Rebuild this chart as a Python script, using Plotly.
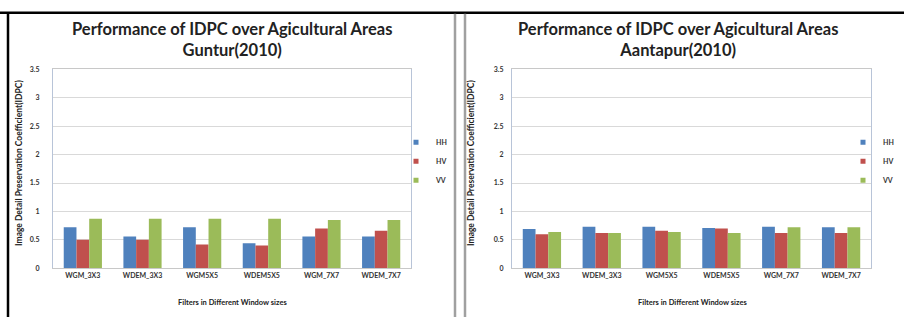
import plotly.graph_objects as go

categories = ["WGM_3X3", "WDEM_3X3", "WGM5X5", "WDEM5X5", "WGM_7X7", "WDEM_7X7"]
series_names = ["HH", "HV", "VV"]
guntur_hh = [0.72, 0.56, 0.72, 0.44, 0.56, 0.56]
guntur_hv = [0.50, 0.50, 0.42, 0.40, 0.70, 0.66]
guntur_vv = [0.87, 0.87, 0.87, 0.87, 0.85, 0.85]
aantapur_hh = [0.69, 0.73, 0.73, 0.71, 0.73, 0.72]
aantapur_hv = [0.60, 0.62, 0.66, 0.70, 0.62, 0.62]
aantapur_vv = [0.64, 0.62, 0.64, 0.62, 0.72, 0.72]
y_ticks = [0, 0.5, 1, 1.5, 2, 2.5, 3, 3.5]
y_tick_labels = ["0", "0.5", "1", "1.5", "2", "2.5", "3", "3.5"]
colors = ["#4F81BD", "#C0504D", "#9BBB59"]

W, H = 904, 320
MR = 28  # right margin reserved so the right legend never pushes the layout
PW = W - MR
def px(x):
    return x / PW
def py(y):
    return 1 - y / H

fig = go.Figure()
left = [guntur_hh, guntur_hv, guntur_vv]
right = [aantapur_hh, aantapur_hv, aantapur_vv]
for i, name in enumerate(series_names):
    fig.add_trace(go.Bar(x=categories, y=left[i], name=name, marker_color=colors[i],
                         marker_line_width=0, xaxis="x", yaxis="y", showlegend=False))
for i, name in enumerate(series_names):
    fig.add_trace(go.Bar(x=categories, y=right[i], name=name, marker_color=colors[i],
                         marker_line_width=0, xaxis="x2", yaxis="y2", showlegend=False))
# legend keys (small squares, like the original)
for lg, xa, ya in [("legend", "x", "y"), ("legend2", "x2", "y2")]:
    for i, name in enumerate(series_names):
        fig.add_trace(go.Scatter(x=[None], y=[None], mode="markers", name=name,
                                 marker=dict(symbol="square", size=5, color=colors[i]),
                                 xaxis=xa, yaxis=ya, legend=lg, showlegend=True,
                                 hoverinfo="skip"))

tickfont = dict(family="Lato", size=7, color="#333", weight="bold")
ax_common = dict(showgrid=False, showline=True, linecolor="#c8c8c8", linewidth=1,
                 mirror=True, ticks="", tickfont=tickfont, fixedrange=True)
yax_common = dict(range=[0, 3.5], tickvals=y_ticks, ticktext=y_tick_labels,
                  showgrid=True, gridcolor="#d9d9d9", gridwidth=1, showline=True,
                  linecolor="#b8c4d8", mirror=True, ticks="", tickfont=tickfont,
                  zeroline=False, fixedrange=True)

ybot, ytop = py(270), py(66)
legfont = dict(family="Lato", size=7, color="#333", weight="bold")
fig.update_layout(
    width=W, height=H,
    margin=dict(l=0, r=MR, t=0, b=0),
    paper_bgcolor="white", plot_bgcolor="white",
    barmode="group", bargap=0.36, bargroupgap=0,
    xaxis=dict(domain=[px(53), px(411)], anchor="y", **ax_common),
    yaxis=dict(domain=[ybot, ytop], anchor="x", ticklabelstandoff=11, **yax_common),
    xaxis2=dict(domain=[px(512), px(871)], anchor="y2", **ax_common),
    yaxis2=dict(domain=[ybot, ytop], anchor="x2", ticklabelstandoff=6, **yax_common),
    legend=dict(x=px(396), y=py(126), xanchor="left", yanchor="top", font=legfont,
                bgcolor="rgba(0,0,0,0)", itemwidth=30, tracegroupgap=0),
    legend2=dict(x=px(843), y=py(126), xanchor="left", yanchor="top", font=legfont,
                 bgcolor="rgba(0,0,0,0)", itemwidth=30, tracegroupgap=0),
    showlegend=True,
)

title_font = dict(family="Lato", size=16.5, color="#222", weight="bold")
small_bold = dict(family="Lato", size=7.5, color="#222", weight="bold")
for txt, cx in [("Performance of IDPC over Agicultural Areas<br>Guntur(2010)", 232),
                ("Performance of IDPC over Agicultural Areas<br>Aantapur(2010)", 678)]:
    fig.add_annotation(text=txt, x=px(cx), y=py(35), xref="paper", yref="paper",
                       showarrow=False, font=title_font, xanchor="center", yanchor="middle",
                       align="center")
for cx in [232, 692]:
    fig.add_annotation(text="Filters in Different Window sizes", x=px(cx), y=py(305),
                       xref="paper", yref="paper", showarrow=False, font=small_bold,
                       xanchor="center", yanchor="middle")
for cx in [19, 471]:
    fig.add_annotation(text="Image Detail Preservation Coefficient(IDPC)", x=px(cx), y=py(162),
                       xref="paper", yref="paper", showarrow=False,
                       font=dict(family="Lato", size=8.5, color="#222", weight="bold"),
                       textangle=-90, xanchor="center", yanchor="middle")

# frame lines
fig.add_shape(type="line", xref="paper", yref="paper", x0=0, x1=px(W), y0=py(8), y1=py(8),
              line=dict(color="black", width=2.5))
fig.add_shape(type="line", xref="paper", yref="paper", x0=px(8), x1=px(8), y0=0, y1=py(8),
              line=dict(color="black", width=2.5))
for xl in [455, 465]:
    fig.add_shape(type="line", xref="paper", yref="paper", x0=px(xl), x1=px(xl), y0=0, y1=py(9),
                  line=dict(color="#a0a0a0", width=2.5))

fig.write_html("out.html")
